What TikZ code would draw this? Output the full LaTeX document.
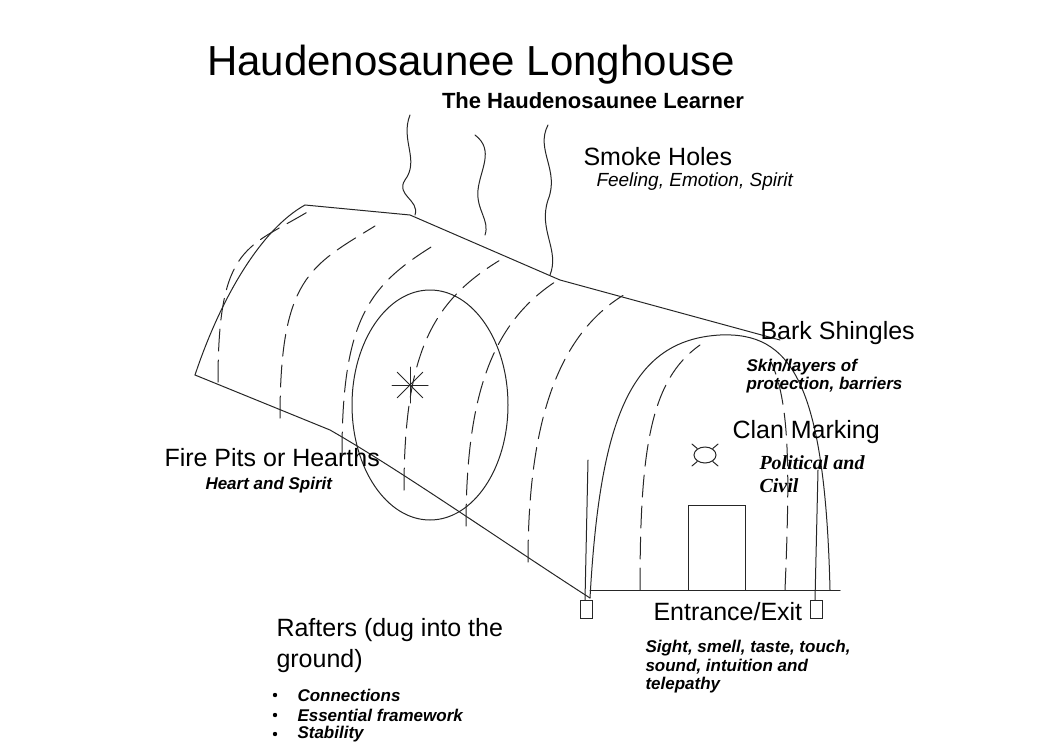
\documentclass[tikz,border=0pt]{standalone}
\usepackage{fontspec}
\setmainfont{Liberation Sans}
\newfontfamily\serifbi{Liberation Serif}
\begin{document}
\begin{tikzpicture}[x=1pt,y=-1pt,line width=1pt]
  \tikzstyle{sketch}=[draw=black!85,line cap=round]
  \tikzstyle{rafter}=[sketch,dash pattern=on 22pt off 9pt]
  \tikzstyle{head}=[font=\fontsize{25}{31}\selectfont,anchor=west,inner sep=0pt]
  \tikzstyle{note}=[font=\fontsize{17}{19}\selectfont\bfseries\itshape,anchor=west,inner sep=0pt]
  \useasboundingbox (0,0) rectangle (1052,752);

  % titles
  \node(title)[font=\fontsize{42}{46}\selectfont] at (471,65) {Haudenosaunee Longhouse};
  \node(learner)[font=\fontsize{22}{24}\selectfont\bfseries] at (593,101) {The Haudenosaunee Learner};

  % smoke
  \draw[sketch] (410,115) .. controls (400,140) and (420,160) .. (405,180) .. controls (395,195) and (420,200) .. (415,215);
  \draw[sketch] (475,135) .. controls (495,150) and (480,170) .. (478,190) .. controls (476,210) and (490,220) .. (485,235);
  \draw[sketch] (548,125) .. controls (535,150) and (560,170) .. (548,200) .. controls (538,230) and (560,250) .. (550,275);

  % longhouse outline
  \draw[sketch] (195,375) .. controls (220,300) and (260,230) .. (305,205) -- (410,215) -- (560,280) -- (780,340);
  \draw[sketch] (195,375) -- (330,430) .. controls (400,470) and (500,540) .. (590,598);
  \draw[sketch] (590,598) .. controls (600,420) and (630,340) .. (720,335) .. controls (790,332) and (825,380) .. (830,590);
  \draw[sketch] (590,590) -- (840,590);
  \foreach \i in {1,...,6}{
    \pgfmathsetmacro\sx{590-62*\i}
    \pgfmathsetmacro\sy{598-36*\i}
    \pgfmathsetmacro\ty{205+0.28*(\sx+95-300)}
    \draw[rafter] (\sx,\sy) .. controls (\sx,\sy-140) and (\sx+30,\ty+40) .. (\sx+95,\ty);
  }
  \draw[rafter] (640,590) .. controls (640,450) and (650,380) .. (700,345);
  \draw[rafter] (785,590) .. controls (790,470) and (790,400) .. (770,360);

  % hearth
  \draw[sketch] (430,405) ellipse (78 and 115);
  \foreach \a in {0,45,...,315}
    \draw[sketch] (410,385) -- ++(\a:18);
  \node(hearth) at (410,385) {};

  % turtle, door, poles
  \draw[sketch] (705,455) ellipse (11 and 8);
  \foreach \a in {40,140,220,320} \draw[sketch] (705,455) ++(\a:10) -- ++(\a:7);
  \draw[sketch] (688,590) -- (688,505) -- (745,505) -- (745,590);
  \draw[sketch] (588,460) -- (585,600);
  \draw[sketch] (580,600) rectangle (592,618);
  \draw[sketch] (818,470) -- (815,600);
  \draw[sketch] (810,600) rectangle (822,618);

  % labels
  \node(smoke)[head] at (583,157) {Smoke Holes};
  \node(feeling)[note,font=\fontsize{19}{21}\selectfont\itshape] at (596,182) {Feeling, Emotion, Spirit};
  \node(bark)[head] at (760,333) {Bark Shingles};
  \node(skin)[note] at (746,367) {Skin/layers of};
  \node(prot)[note] at (746,385) {protection, barriers};
  \node(clan)[head] at (732,432) {Clan Marking};
  \node(political)[anchor=west,inner sep=0pt,font=\fontsize{20}{22}\selectfont\serifbi\bfseries\itshape] at (759,463) {Political and};
  \node(civil)[anchor=west,inner sep=0pt,font=\fontsize{20}{22}\selectfont\serifbi\bfseries\itshape] at (759,486) {Civil};
  \node(fire)[head] at (164,458) {Fire Pits or Hearths};
  \node(heart)[note] at (205,485) {Heart and Spirit};
  \node(entrance)[head] at (653,612) {Entrance/Exit};
  \node(sight)[note,align=left,anchor=north west,font=\fontsize{17}{18.5}\selectfont\bfseries\itshape] at (645,640) {Sight, smell, taste, touch,\\sound, intuition and\\telepathy};
  \node(rafters)[head,align=left,anchor=north west] at (276,618) {Rafters (dug into the\\ground)};
  \foreach \t/\y in {Connections/695,Essential framework/715,Stability/734}{
    \fill (275,\y) circle (2.2);
    \node[note] at (297,\y) {\t};
  }
\end{tikzpicture}
\end{document}
